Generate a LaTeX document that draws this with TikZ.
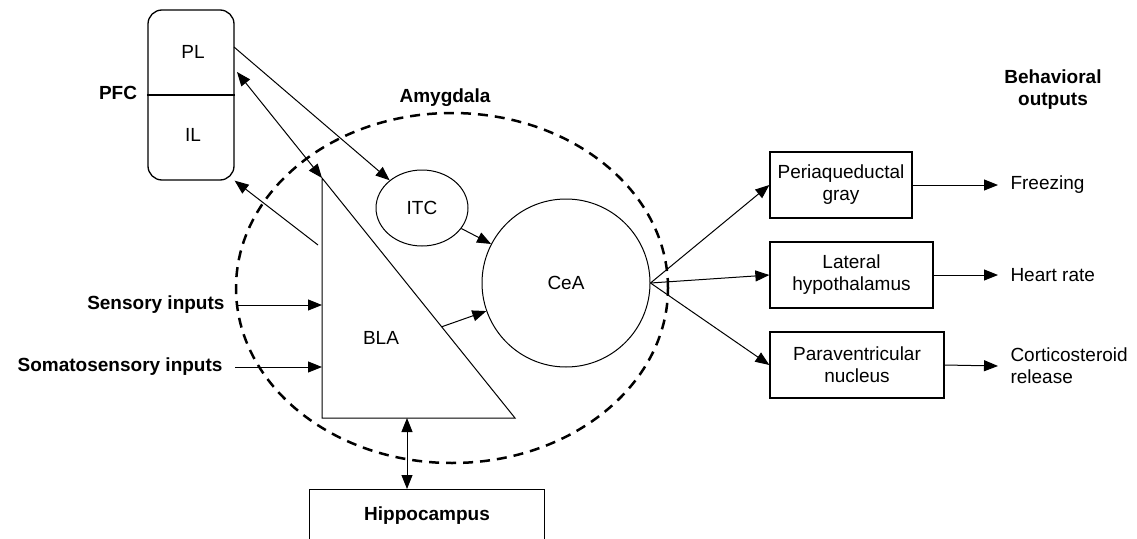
\documentclass[tikz,border=0pt]{standalone}
\usepackage{fontspec}
\setmainfont{Liberation Sans}
\usetikzlibrary{arrows.meta, positioning, shapes.geometric, calc}

\begin{document}
\begin{tikzpicture}[
    x=1pt, y=-1pt,
    font=\fontsize{19}{22}\selectfont,
    line width=1pt,
    box/.style={rectangle, draw, line width=1.3pt, minimum height=66pt,
                align=center, inner sep=2pt},
    head/.style={font=\fontsize{19}{22}\selectfont\bfseries, align=center, inner sep=0pt},
    txt/.style={align=left, inner sep=0pt},
    arr/.style={-{Triangle[length=14pt,width=11pt]}},
    dblarr/.style={{Triangle[length=14pt,width=11pt]}-{Triangle[length=14pt,width=11pt]}},
    amyg/.style={ellipse, draw, dash pattern=on 10pt off 7pt, line width=2.5pt,
                 minimum width=432pt, minimum height=350pt, inner sep=0pt},
  ]
    \useasboundingbox (0,0) rectangle (1137,538);
    \clip (0,0) rectangle (1137,538);

    % prefrontal cortex
    \node[draw, line width=1.3pt, rounded corners=14pt, minimum width=86pt,
          minimum height=170pt] (pfc) at (191,95) {};
    \draw[line width=1.3pt] (pfc.west) -- (pfc.east);
    \node (pl) at (193,52) {PL};
    \node (il) at (193,135) {IL};
    \node[head] (pfcname) at (118,93) {PFC};

    % amygdala
    \node[amyg] (amy) at (452,288) {};
    \node[head] (amyname) at (445,98) {Amygdala};
    \node[ellipse, draw, minimum width=92pt, minimum height=76pt, inner sep=0pt] (itc) at (422,208) {ITC};
    \node[circle, draw, minimum size=168pt, inner sep=0pt] (cea) at (566,283) {CeA};

    \coordinate (blaTop) at (322,178);
    \coordinate (blaLeft) at (322,418);
    \coordinate (blaRight) at (515,418);
    \draw (blaTop) -- (blaLeft) -- (blaRight) -- cycle;
    \node (bla) at (381,338) {BLA};

    % inputs
    \node[head, anchor=east] (sens) at (225,305) {Sensory inputs};
    \node[head, anchor=east] (soma) at (223,367) {Somatosensory inputs};
    \node[head, anchor=north, minimum width=235pt, draw, line width=1.3pt,
          text height=31pt, text depth=40pt] (hip) at (427,489) {Hippocampus};

    % outputs
    \node[box, minimum width=142pt] (pag) at (841,185) {Periaqueductal\\gray};
    \node[box, minimum width=163pt] (lh) at (851.5,275) {Lateral\\hypothalamus};
    \node[box, minimum width=174pt] (pvn) at (857,365) {Paraventricular\\nucleus};
    \node[head] (behav) at (1053,90) {Behavioral\\outputs};
    \node[txt, anchor=west] (freeze) at (1010,185) {Freezing};
    \node[txt, anchor=west] (heart) at (1010,275) {Heart rate};
    \node[txt, anchor=west] (cort) at (1010,366) {Corticosteroid\\release};

    % connections
    \coordinate (plOut) at (234,47);
    \coordinate (plIn) at (237,72);
    \coordinate (blaUp) at (318,245);
    \coordinate (blaOut) at ($(blaTop)!0.62!(blaRight)$);
    \coordinate (blaBase) at (407,418);

    \draw[arr] (plOut) -- (itc);
    \draw[dblarr] (plIn) -- (blaTop);
    \draw[arr] (blaUp) -- (pfc.south east);
    \draw[arr] (itc) -- (cea);
    \draw[arr] (blaOut) -- (cea);
    \draw[arr] ([xshift=12pt]sens.east) -- (blaTop |- sens.east);
    \draw[arr] ([xshift=12pt]soma.east) -- (blaTop |- soma.east);
    \draw[dblarr] (blaBase) -- (blaBase |- hip.north);

    \draw[arr] (cea.east) -- (pag.west);
    \draw[arr] (cea.east) -- (lh.west);
    \draw[arr] (cea.east) -- (pvn.west);
    \draw[arr] (pag.east) -- ([xshift=-12pt]freeze.west);
    \draw[arr] (lh.east) -- ([xshift=-12pt]heart.west);
    \draw[arr] (pvn.east) -- ([xshift=-12pt]cort.west);
\end{tikzpicture}
\end{document}
